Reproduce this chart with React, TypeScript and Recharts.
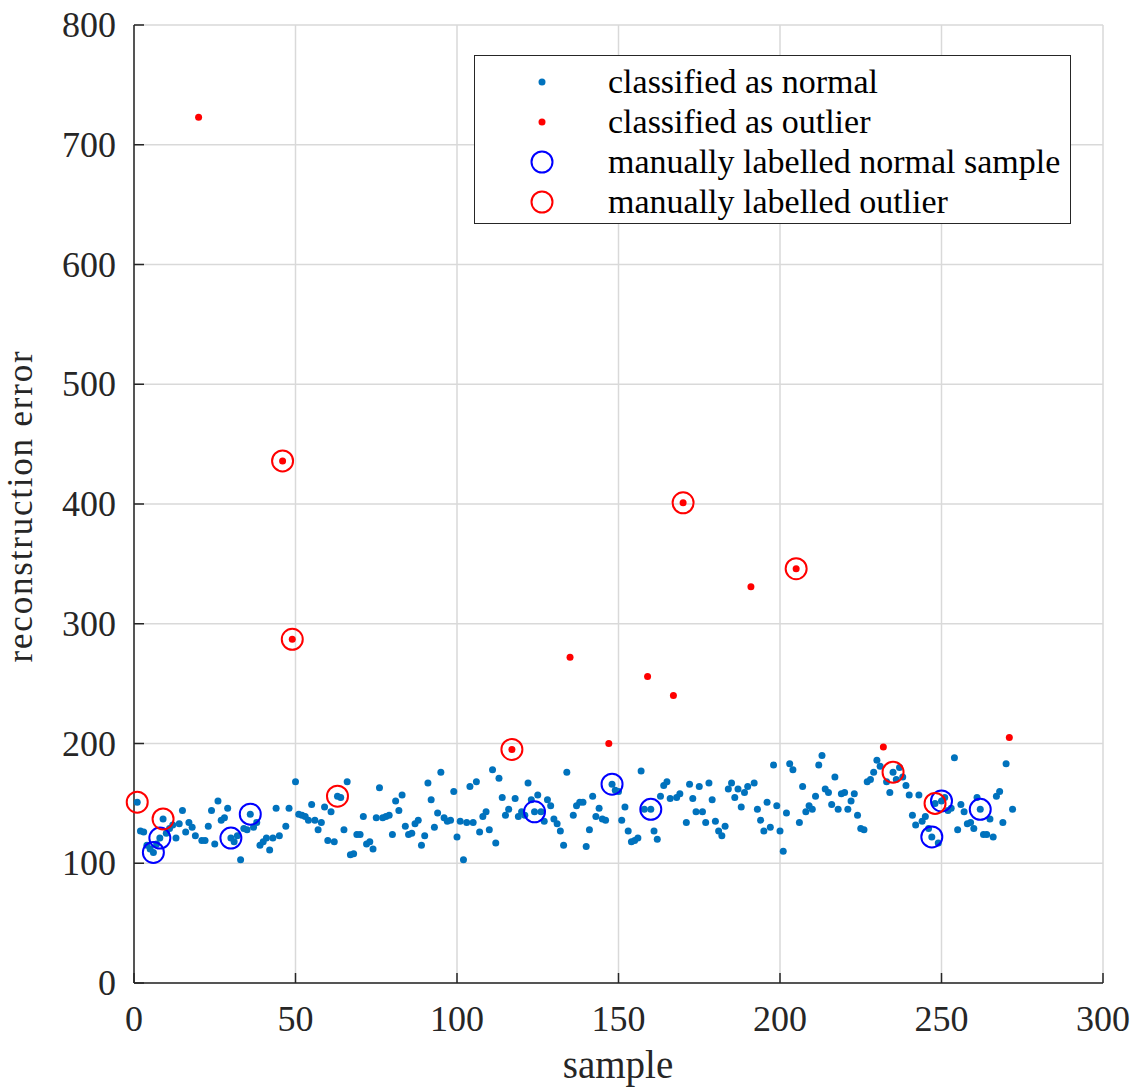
import React from 'react';
import { ScatterChart, Scatter, XAxis, YAxis, CartesianGrid, Legend } from 'recharts';

// reconstruction error per sample (sample number = index + 1)
const errors = [
  151, 127, 126, 115, 112, 109, 116, 121, 137, 125,
  129, 132, 121, 133, 144, 126, 134, 130, 123, 723,
  119, 119, 131, 144, 116, 152, 136, 138, 146, 121,
  118, 123, 103, 129, 128, 141, 130, 134, 115, 118,
  121, 111, 121, 146, 123, 436, 131, 146, 287, 168,
  141, 140, 139, 136, 149, 136, 128, 134, 147, 119,
  143, 118, 156, 155, 128, 168, 107, 108, 124, 124,
  139, 116, 118, 112, 138, 163, 138, 139, 140, 124,
  152, 144, 157, 131, 124, 125, 133, 136, 115, 123,
  167, 153, 130, 142, 176, 138, 135, 136, 160, 122,
  135, 103, 134, 164, 134, 168, 126, 139, 143, 128,
  178, 117, 171, 155, 140, 145, 195, 154, 139, 143,
  140, 167, 153, 143, 157, 143, 135, 153, 148, 137,
  133, 127, 115, 176, 272, 140, 148, 151, 151, 114,
  128, 156, 139, 146, 137, 136, 200, 166, 161, 160,
  136, 147, 127, 118, 119, 121, 177, 145, 256, 145,
  127, 120, 156, 165, 168, 154, 240, 155, 158, 401,
  134, 166, 154, 143, 164, 143, 134, 167, 153, 135,
  127, 123, 131, 162, 167, 155, 162, 147, 159, 164,
  331, 167, 145, 136, 127, 151, 130, 182, 148, 127,
  110, 142, 183, 178, 346, 134, 164, 143, 148, 145,
  156, 182, 190, 162, 159, 149, 172, 145, 158, 159,
  145, 152, 158, 140, 129, 128, 168, 170, 176, 186,
  181, 197, 168, 159, 176, 170, 180, 172, 165, 157,
  140, 132, 157, 135, 139, 129, 122, 150, 117, 152,
  155, 144, 146, 188, 128, 149, 143, 133, 134, 129,
  155, 145, 124, 124, 137, 122, 156, 160, 134, 183,
  205, 145,
];

const outlierSamples = [20, 46, 49, 117, 135, 147, 159, 167, 170, 191, 205, 232, 271];
const labelledNormal = [6, 8, 30, 36, 124, 148, 160, 247, 250, 262];
const labelledOutlier = [1, 9, 46, 49, 63, 117, 170, 205, 235, 248];

const xTicks = [0, 50, 100, 150, 200, 250, 300];
const yTicks = [0, 100, 200, 300, 400, 500, 600, 700, 800];

const legendLabels = [
  'classified as normal',
  'classified as outlier',
  'manually labelled normal sample',
  'manually labelled outlier',
];

const AXIS = '#262626';
const GRID = '#d9d9d9';
const NORMAL = '#0072BD';
const OUTLIER = '#FF0000';
const RING_NORMAL = '#0000FF';
const RING_OUTLIER = '#FF0000';
const FONT = "'Liberation Serif', 'Times New Roman', serif";

const toPoint = (s: number) => ({ x: s, y: errors[s - 1] });

const normalData = errors
  .map((e, i) => ({ x: i + 1, y: e }))
  .filter((p) => !outlierSamples.includes(p.x));
const outlierData = outlierSamples.map(toPoint);
const ringNormalData = labelledNormal.map(toPoint);
const ringOutlierData = labelledOutlier.map(toPoint);

const dot = (color: string) => (props: any) => (
  <circle cx={props.cx} cy={props.cy} r={3.5} fill={color} />
);
const ring = (color: string) => (props: any) => (
  <circle cx={props.cx} cy={props.cy} r={10.5} fill="none" stroke={color} strokeWidth={2} />
);

// MATLAB style: ticks point inward, labels sit outside
const BottomTick = (props: any) => {
  const { x, y, payload } = props;
  return (
    <g>
      <line x1={x} x2={x} y1={y} y2={y - 10} stroke={AXIS} strokeWidth={1.5} />
      <text x={x} y={y + 48} textAnchor="middle" fontSize={36} fontFamily={FONT} fill={AXIS}>
        {payload.value}
      </text>
    </g>
  );
};

const LeftTick = (props: any) => {
  const { x, y, payload } = props;
  return (
    <g>
      <line x1={x} x2={x + 10} y1={y} y2={y} stroke={AXIS} strokeWidth={1.5} />
      <text x={x - 18} y={y + 12} textAnchor="end" fontSize={36} fontFamily={FONT} fill={AXIS}>
        {payload.value}
      </text>
    </g>
  );
};

const TopTick = (props: any) => (
  <line x1={props.x} x2={props.x} y1={props.y} y2={props.y + 10} stroke={AXIS} strokeWidth={1.5} />
);

const RightTick = (props: any) => (
  <line x1={props.x} x2={props.x - 10} y1={props.y} y2={props.y} stroke={AXIS} strokeWidth={1.5} />
);

const legendMarker = (i: number) => {
  if (i === 0) return <circle cx={67} cy={20} r={3.5} fill={NORMAL} />;
  if (i === 1) return <circle cx={67} cy={20} r={3.5} fill={OUTLIER} />;
  const color = i === 2 ? RING_NORMAL : RING_OUTLIER;
  return <circle cx={67} cy={20} r={10.5} fill="none" stroke={color} strokeWidth={2} />;
};

const renderLegend = () => (
  <div
    style={{
      width: 597,
      height: 169,
      boxSizing: 'border-box',
      border: `1.5px solid ${AXIS}`,
      background: '#fff',
      paddingTop: 6,
      fontFamily: FONT,
      fontSize: 34,
      color: '#000',
    }}
  >
    {legendLabels.map((label, i) => (
      <div key={label} style={{ display: 'flex', alignItems: 'center', height: 40 }}>
        <svg width={133} height={40} style={{ flex: 'none' }}>
          {legendMarker(i)}
        </svg>
        <span style={{ lineHeight: '40px', whiteSpace: 'nowrap' }}>{label}</span>
      </div>
    ))}
  </div>
);

export default function App() {
  return (
    <div style={{ position: 'absolute', left: 0, top: 0, width: 1134, height: 1088, background: '#fff' }}>
      <ScatterChart width={1134} height={1088} margin={{ top: 25, right: 31, bottom: 0, left: 0 }}>
        <CartesianGrid stroke={GRID} strokeWidth={1.5} horizontalValues={yTicks} verticalValues={xTicks} />
        <XAxis
          type="number"
          dataKey="x"
          domain={[0, 300]}
          ticks={xTicks}
          height={105}
          tickSize={0}
          tickMargin={0}
          tickLine={false}
          axisLine={{ stroke: AXIS, strokeWidth: 1.5 }}
          tick={BottomTick}
          interval={0}
        />
        <XAxis
          xAxisId="top"
          orientation="top"
          type="number"
          domain={[0, 300]}
          ticks={xTicks}
          height={0}
          tickSize={0}
          tickMargin={0}
          tickLine={false}
          axisLine={{ stroke: AXIS, strokeWidth: 1.5 }}
          tick={TopTick}
          interval={0}
        />
        <YAxis
          type="number"
          dataKey="y"
          domain={[0, 800]}
          ticks={yTicks}
          width={134}
          tickSize={0}
          tickMargin={0}
          tickLine={false}
          axisLine={{ stroke: AXIS, strokeWidth: 1.5 }}
          tick={LeftTick}
          interval={0}
        />
        <YAxis
          yAxisId="right"
          orientation="right"
          type="number"
          domain={[0, 800]}
          ticks={yTicks}
          width={0}
          tickSize={0}
          tickMargin={0}
          tickLine={false}
          axisLine={{ stroke: AXIS, strokeWidth: 1.5 }}
          tick={RightTick}
          interval={0}
        />
        <Scatter name={legendLabels[0]} data={normalData} shape={dot(NORMAL)} isAnimationActive={false} />
        <Scatter name={legendLabels[1]} data={outlierData} shape={dot(OUTLIER)} isAnimationActive={false} />
        <Scatter name={legendLabels[2]} data={ringNormalData} shape={ring(RING_NORMAL)} isAnimationActive={false} />
        <Scatter name={legendLabels[3]} data={ringOutlierData} shape={ring(RING_OUTLIER)} isAnimationActive={false} />
        <Legend
          layout="vertical"
          align="center"
          verticalAlign="middle"
          content={renderLegend}
          wrapperStyle={{ left: 474, top: 55, width: 597, height: 169 }}
        />
      </ScatterChart>
      <svg
        width={1134}
        height={1088}
        style={{ position: 'absolute', left: 0, top: 0, pointerEvents: 'none' }}
      >
        <text x={618} y={1078} textAnchor="middle" fontSize={39} fontFamily={FONT} fill={AXIS}>
          sample
        </text>
        <text
          transform="translate(32, 506) rotate(-90)"
          textAnchor="middle"
          fontSize={35}
          letterSpacing={1.8}
          fontFamily={FONT}
          fill={AXIS}
        >
          reconstruction error
        </text>
      </svg>
    </div>
  );
}
